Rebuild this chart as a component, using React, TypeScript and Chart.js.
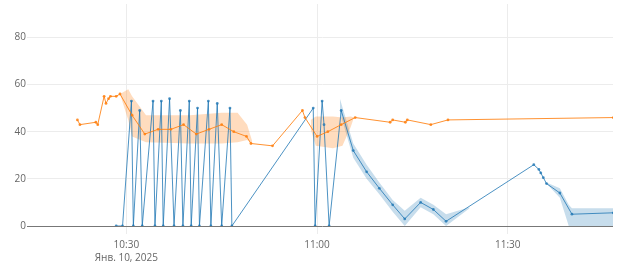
import { useEffect, useRef } from 'react';
import { Chart, registerables } from 'chart.js';

Chart.register(...registerables);

// Times are minutes since midnight (Jan 10, 2025)
const xTickTimes = [630, 660, 690];
const yTickValues = [0, 20, 40, 60, 80];
const dateLabel = 'Янв. 10, 2025';

const orangeTimes = [622.3, 622.7, 625.2, 625.5, 626.5, 626.8, 627.2, 627.5, 628.4, 629.0, 630.9, 632.9, 635.0, 637.0, 639.0, 641.0, 643.0, 645.0, 646.9, 648.9, 649.6, 653.0, 657.7, 658.1, 660.0, 661.7, 663.8, 666.0, 671.5, 671.9, 673.9, 674.2, 677.9, 680.6, 706.6];
const orangeValues = [45, 43, 44, 43, 55, 52, 54, 55, 55, 56, 47, 39, 41, 41, 43, 39, 41, 43, 40, 38, 35, 34, 49, 46, 38, 40, 43, 46, 44, 45, 44, 45, 43, 45, 46];

const blueTimes = [628.4, 629.4, 630.8, 631.1, 632.1, 632.5, 634.2, 634.5, 635.5, 635.8, 636.8, 637.5, 638.5, 638.9, 639.9, 640.2, 641.2, 641.5, 642.9, 643.3, 644.3, 645.0, 646.3, 646.6, 659.4, 659.7, 660.8, 661.1, 661.9, 663.8, 665.7, 667.8, 669.8, 671.9, 673.8, 676.3, 678.3, 680.3, 694.1, 694.9, 695.2, 695.6, 696.1, 698.2, 700.1, 706.6];
const blueValues = [0, 0, 53, 0, 49, 0, 53, 0, 53, 0, 54, 0, 49, 0, 53, 0, 50, 0, 53, 0, 52, 0, 50, 0, 50, 0, 53, 43, 0, 49, 32, 23, 16, 9, 3, 10, 7, 2, 26, 24, 22.5, 20.5, 18, 14, 5, 5.6];

const orangeBand1Times = [629.0, 630.3, 630.9, 633.1, 640.0, 645.0, 647.5, 649.0, 649.8];
const orangeBand1Low = [56, 45, 38, 35.5, 35, 35, 35.5, 36.5, 35];
const orangeBand1High = [56, 58, 55, 47, 47, 48, 48, 43, 36];

const orangeBand2Times = [659.0, 659.8, 662.5, 664.0, 665.3, 665.8];
const orangeBand2Low = [41, 34, 33, 34, 42, 46];
const orangeBand2High = [45, 46.5, 46.5, 46, 46.5, 46];

const blueBand1Times = [663.6, 665.7, 667.8, 669.8, 671.9, 673.8, 676.3, 678.3, 680.3, 684.0];
const blueBand1Low = [48, 29, 20, 13.5, 6, 0, 8, 5, 0, 7.5];
const blueBand1High = [54, 35, 26, 18.5, 11, 6.5, 12, 9, 5, 8];

const blueBand2Times = [696.1, 698.2, 699.6, 700.1, 706.6];
const blueBand2Low = [18, 12, 0, 0, 0];
const blueBand2High = [18.5, 16, 9, 7.5, 7.5];

const ORANGE = 'rgba(255,127,14,0.85)';
const BLUE = 'rgba(31,119,180,0.8)';
const ORANGE_BAND = 'rgba(255,127,14,0.27)';
const BLUE_BAND = 'rgba(31,119,180,0.25)';

const X_MIN = 630 + (32 - 127) / 6.4;
const X_MAX = 630 + (617 - 127) / 6.4;

function pts(t: number[], v: number[]) {
  return t.map((x, i) => ({ x, y: v[i] }));
}

function fmt(m: number) {
  const h = Math.floor(m / 60);
  const mm = Math.round(m - h * 60);
  return `${h}:${mm < 10 ? '0' + mm : mm}`;
}

function bandSets(t: number[], lo: number[], hi: number[], color: string) {
  return [
    { data: pts(t, hi), borderWidth: 0, pointRadius: 0, fill: false, order: 10, backgroundColor: color, borderColor: 'rgba(0,0,0,0)' },
    { data: pts(t, lo), borderWidth: 0, pointRadius: 0, fill: '-1', order: 10, backgroundColor: color, borderColor: 'rgba(0,0,0,0)' },
  ];
}

export default function App() {
  const ref = useRef<HTMLCanvasElement>(null);
  useEffect(() => {
    document.body.style.margin = '0';
    const font = { family: "'Open Sans', sans-serif", size: 10 };
    const chart = new Chart(ref.current as HTMLCanvasElement, {
      type: 'line',
      data: {
        datasets: [
          ...bandSets(orangeBand1Times, orangeBand1Low, orangeBand1High, ORANGE_BAND),
          ...bandSets(orangeBand2Times, orangeBand2Low, orangeBand2High, ORANGE_BAND),
          ...bandSets(blueBand1Times, blueBand1Low, blueBand1High, BLUE_BAND),
          ...bandSets(blueBand2Times, blueBand2Low, blueBand2High, BLUE_BAND),
          {
            data: pts(blueTimes, blueValues), borderColor: BLUE, backgroundColor: BLUE, borderWidth: 1,
            pointRadius: 1.4, pointBorderWidth: 0, fill: false, order: 1, tension: 0,
          },
          {
            data: pts(orangeTimes, orangeValues), borderColor: ORANGE, backgroundColor: ORANGE, borderWidth: 1,
            pointRadius: 1.4, pointBorderWidth: 0, fill: false, order: 0, tension: 0,
          },
        ] as any,
      },
      options: {
        animation: false,
        responsive: false,
        layout: { padding: 0 },
        plugins: { legend: { display: false }, tooltip: { enabled: false } },
        scales: {
          x: {
            type: 'linear', min: X_MIN, max: X_MAX,
            afterBuildTicks: (s: any) => { s.ticks = xTickTimes.map((v) => ({ value: v })); },
            afterFit: (s: any) => { s.height = 41; s.paddingLeft = 0; s.paddingRight = 0; },
            ticks: {
              font: { ...font, lineHeight: 1.3 }, color: '#666', padding: 5, maxRotation: 0, autoSkip: false,
              callback: (v: any) => (v === xTickTimes[0] ? [fmt(v), dateLabel] : fmt(v)),
            },
            grid: { color: '#ececec', tickLength: 8, drawTicks: true },
            border: { display: false },
          },
          y: {
            min: 0, max: 226 / 2.4,
            afterBuildTicks: (s: any) => { s.ticks = yTickValues.map((v) => ({ value: v })); },
            afterFit: (s: any) => { s.width = 32; s.paddingTop = 0; s.paddingBottom = 0; },
            ticks: { font, color: '#666', padding: 1 },
            grid: {
              color: (ctx: any) => (ctx.tick && ctx.tick.value === 0 ? '#777' : '#ececec'),
              tickLength: 5, drawTicks: true,
            },
            border: { display: false },
          },
        },
      } as any,
    });
    return () => chart.destroy();
  }, []);
  return <canvas ref={ref} width={617} height={267} style={{ display: 'block' }} />;
}
